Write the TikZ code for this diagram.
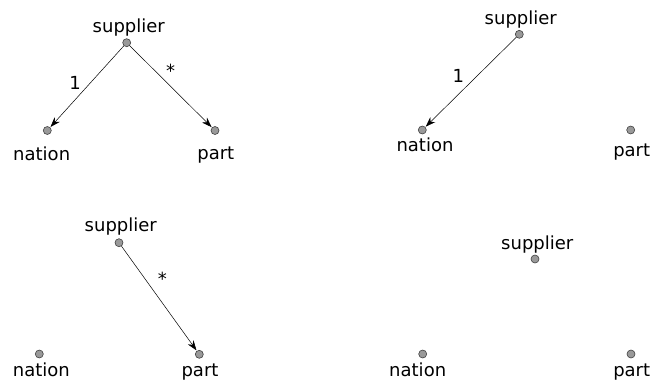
\documentclass[tikz,border=0pt]{standalone}
\usepackage{fontspec}
\setmainfont{DejaVu Sans}
\usetikzlibrary{arrows.meta}
\begin{document}
\begin{tikzpicture}[x=1pt,y=-1pt,
  vtx/.style={circle,draw=black!75,fill=black!40,line width=0.6pt,inner sep=0pt,minimum size=8pt},
  lbl/.style={anchor=base,inner sep=0pt,font=\fontsize{18}{21}\selectfont},
  mult/.style={inner sep=0pt,font=\fontsize{18}{21}\selectfont},
  edge/.style={line width=0.5pt,shorten >=0.5pt,-{Stealth[length=10pt,width=7pt]}}]
\useasboundingbox (0,0) rectangle (653,383);

% supplier -> nation (1), supplier -> part (*)
\node[vtx] (s1) at (126.7,42.7) {};
\node[vtx] (n1) at (47.3,130.5) {};
\node[vtx] (p1) at (215,130.5) {};
\node[lbl] (s1t) at (128.8,32.3) {supplier};
\node[lbl] (n1t) at (41.7,160) {nation};
\node[lbl] (p1t) at (215.8,159.5) {part};
\draw[edge] (s1) -- (n1);
\draw[edge] (s1) -- (p1);
\node[mult] (m1a) at (75,82.7) {1};
\node[mult] (m1b) at (170.7,71) {*};

% supplier -> nation (1) only
\node[vtx] (s2) at (519.3,34.3) {};
\node[vtx] (n2) at (422.3,130) {};
\node[vtx] (p2) at (630.7,130) {};
\node[lbl] (s2t) at (520.8,24) {supplier};
\node[lbl] (n2t) at (425,151.7) {nation};
\node[lbl] (p2t) at (631.7,156.7) {part};
\draw[edge] (s2) -- (n2);
\node[mult] (m2a) at (458.3,76) {1};

% supplier -> part (*) only
\node[vtx] (s3) at (119,242.7) {};
\node[vtx] (n3) at (39.3,354) {};
\node[vtx] (p3) at (199.3,354.3) {};
\node[lbl] (s3t) at (120.8,231) {supplier};
\node[lbl] (n3t) at (41.3,376.7) {nation};
\node[lbl] (p3t) at (200,376.7) {part};
\draw[edge] (s3) -- (p3);
\node[mult] (m3b) at (162.3,279) {*};

% no edges
\node[vtx] (s4) at (535,259) {};
\node[vtx] (n4) at (422.7,354) {};
\node[vtx] (p4) at (631,354) {};
\node[lbl] (s4t) at (537.3,249) {supplier};
\node[lbl] (n4t) at (417.7,376.7) {nation};
\node[lbl] (p4t) at (631.7,376.7) {part};
\end{tikzpicture}
\end{document}
